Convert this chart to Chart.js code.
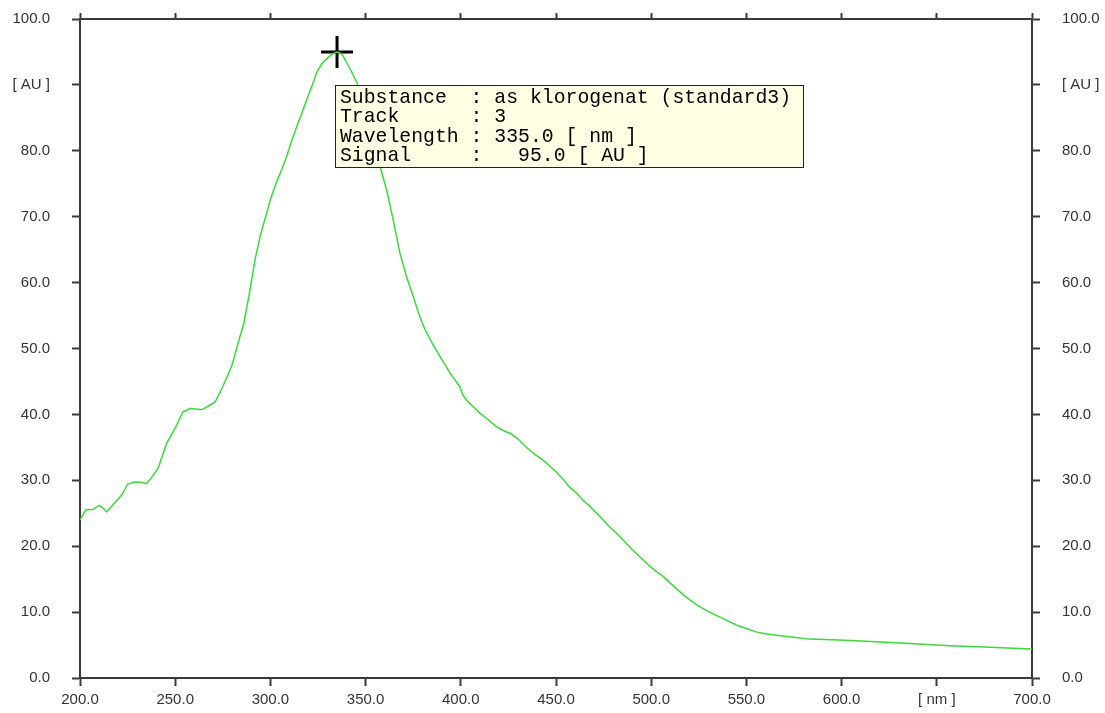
<!DOCTYPE html>
<html>
<head>
<meta charset="utf-8">
<script src="https://cdn.jsdelivr.net/npm/chart.js@4.4.0/dist/chart.umd.min.js"></script>
<style>
  html, body { margin: 0; padding: 0; background: #ffffff; }
  #wrap { position: relative; width: 1105px; height: 713px; }
  canvas { display: block; }
</style>
</head>
<body>
<div id="wrap"><canvas id="c" width="1105" height="713"></canvas></div>
<script>
// ---- data ----
const wavelengths = [
  200, 203, 207, 210, 212, 214, 218, 222, 225, 228, 232, 235, 238, 241, 243, 245.5, 250, 254, 258, 262,
  264, 267, 271, 275, 280, 283, 286, 289, 292, 295, 298, 300, 303, 306, 308.5, 311, 314, 316.5, 319, 322,
  324.5, 327, 330, 332.5, 335, 337.5, 340, 343, 345.5, 348, 350, 352.5, 355, 357.5, 361, 363, 365, 368, 371.5, 375,
  378.5, 381, 384, 387, 389, 392, 394.5, 397, 399.5, 401, 403, 406, 410, 414, 418, 422, 426, 430, 433, 436,
  440, 443, 447, 450, 454, 457, 461, 464, 468, 471, 474, 478, 482, 486, 490, 494, 498, 502, 506, 510,
  515, 520, 525, 530, 535, 540, 545, 550, 555, 560, 566, 575, 583, 595, 605, 618, 631, 645, 657, 675, 690, 700
];
const signal = [
  24.0, 25.5, 25.6, 26.2, 25.8, 25.2, 26.5, 27.8, 29.4, 29.7, 29.7, 29.5, 30.6, 31.8, 33.5, 35.6, 37.9, 40.4, 40.9, 40.8,
  40.7, 41.2, 41.9, 44.2, 47.6, 50.8, 53.8, 58.4, 63.6, 67.5, 70.5, 72.6, 75.1, 77.2, 79.1, 81.4, 83.8, 85.7, 87.7, 90.0,
  92.0, 93.2, 94.1, 94.7, 95.0, 94.7, 93.4, 91.8, 90.3, 88.2, 86.5, 83.6, 80.6, 77.7, 74.1, 71.5, 68.8, 64.5, 60.9, 57.9,
  54.8, 53.0, 51.3, 49.8, 48.8, 47.4, 46.2, 45.2, 44.2, 43.0, 42.2, 41.3, 40.2, 39.3, 38.3, 37.6, 37.1, 36.3, 35.4, 34.6,
  33.7, 33.1, 32.1, 31.3, 30.1, 29.0, 28.0, 27.0, 26.0, 25.1, 24.2, 23.0, 21.9, 20.7, 19.5, 18.4, 17.3, 16.3, 15.5, 14.4,
  13.1, 11.9, 10.9, 10.1, 9.4, 8.7, 8.0, 7.5, 7.0, 6.7, 6.5, 6.2, 5.9, 5.8, 5.7, 5.5, 5.3, 5.1, 4.9, 4.7, 4.5, 4.4
];
const markerWavelength = [335.0];
const markerSignal = [95.0];
const infoLines = [
  "Substance  : as klorogenat (standard3)",
  "Track      : 3",
  "Wavelength : 335.0 [ nm ]",
  "Signal     :   95.0 [ AU ]"
];
const xTickValues = [200, 250, 300, 350, 400, 450, 500, 550, 600, 650, 700];
const yTickValues = [0, 10, 20, 30, 40, 50, 60, 70, 80, 90, 100];
const xTickUnitLabel = "[ nm ]";
const yTickUnitLabel = "[ AU ]";
const xUnitTickValue = 650;
const yUnitTickValue = 90;

// ---- build chart ----
const lineData = wavelengths.map((w, i) => ({ x: w, y: signal[i] }));
const markerData = markerWavelength.map((w, i) => ({ x: w, y: markerSignal[i] }));

const axisColor = '#3a3a3a';
const labelFont = { family: 'Liberation Sans, Arial, sans-serif', size: 15 };

function yLabel(v) { return v === yUnitTickValue ? yTickUnitLabel : Number(v).toFixed(1); }
function xLabel(v) { return v === xUnitTickValue ? xTickUnitLabel : Number(v).toFixed(1); }

const infoBoxPlugin = {
  id: 'infoBox',
  afterDraw(chart) {
    const meta = chart.getDatasetMeta(1);
    const pt = meta.data[0];
    if (!pt) return;
    const ctx = chart.ctx;
    const left = Math.round(pt.x) - 1.5;
    const top = Math.round(pt.y) + 33.5;
    const w = 468, h = 82;
    ctx.save();
    ctx.fillStyle = '#ffffe4';
    ctx.fillRect(left, top, w, h);
    ctx.strokeStyle = '#222';
    ctx.lineWidth = 1;
    ctx.strokeRect(left, top, w, h);
    ctx.fillStyle = '#000';
    ctx.font = '19.8px "Liberation Mono", "DejaVu Sans Mono", monospace';
    ctx.textBaseline = 'middle';
    ctx.textAlign = 'left';
    infoLines.forEach((s, i) => {
      ctx.fillText(s, left + 4.5, top + 12 + i * 19.5);
    });
    ctx.restore();
  }
};

function fixTicks(vals) { return s => { s.ticks = vals.map(v => ({ value: v })); }; }

new Chart(document.getElementById('c'), {
  type: 'scatter',
  data: {
    datasets: [
      {
        data: lineData,
        showLine: true,
        borderColor: '#3bd93b',
        borderWidth: 1.5,
        pointRadius: 0,
        tension: 0,
        xAxisID: 'x',
        yAxisID: 'y'
      },
      {
        data: markerData,
        showLine: false,
        pointStyle: 'cross',
        pointRadius: 16,
        borderColor: '#000',
        borderWidth: 3,
        backgroundColor: '#000',
        xAxisID: 'x',
        yAxisID: 'y'
      }
    ]
  },
  options: {
    responsive: false,
    animation: false,
    layout: { padding: 0 },
    plugins: { legend: { display: false }, tooltip: { enabled: false } },
    scales: {
      x: {
        type: 'linear', position: 'bottom', min: 200, max: 700,
        afterFit(s) { s.height = 35; s.paddingLeft = 0; s.paddingRight = 0; },
        afterBuildTicks: fixTicks(xTickValues),
        ticks: { callback: xLabel, color: '#333', font: labelFont, padding: 5, maxRotation: 0, autoSkip: false },
        grid: { drawOnChartArea: false, drawTicks: true, tickLength: 8, tickColor: axisColor, tickWidth: 2 },
        border: { display: true, color: axisColor, width: 2 }
      },
      x2: {
        type: 'linear', position: 'top', min: 200, max: 700,
        afterFit(s) { s.height = 19; s.paddingLeft = 0; s.paddingRight = 0; },
        afterBuildTicks: fixTicks(xTickValues),
        ticks: { callback: () => '', font: labelFont, padding: 0 },
        grid: { drawOnChartArea: false, drawTicks: true, tickLength: 6, tickColor: axisColor, tickWidth: 2 },
        border: { display: true, color: axisColor, width: 2 }
      },
      y: {
        type: 'linear', position: 'left', min: 0, max: 100,
        afterFit(s) { s.width = 80; s.paddingTop = 0; s.paddingBottom = 0; },
        afterBuildTicks: fixTicks(yTickValues),
        ticks: { callback: yLabel, color: '#333', font: labelFont, padding: 22, autoSkip: false },
        grid: { drawOnChartArea: false, drawTicks: true, tickLength: 8, tickColor: axisColor, tickWidth: 2 },
        border: { display: true, color: axisColor, width: 2 }
      },
      y2: {
        type: 'linear', position: 'right', min: 0, max: 100,
        afterFit(s) { s.width = 73; s.paddingTop = 0; s.paddingBottom = 0; },
        afterBuildTicks: fixTicks(yTickValues),
        ticks: { callback: yLabel, color: '#333', font: labelFont, padding: 22, autoSkip: false },
        grid: { drawOnChartArea: false, drawTicks: true, tickLength: 8, tickColor: axisColor, tickWidth: 2 },
        border: { display: true, color: axisColor, width: 2 }
      }
    }
  },
  plugins: [infoBoxPlugin]
});
</script>
</body>
</html>
